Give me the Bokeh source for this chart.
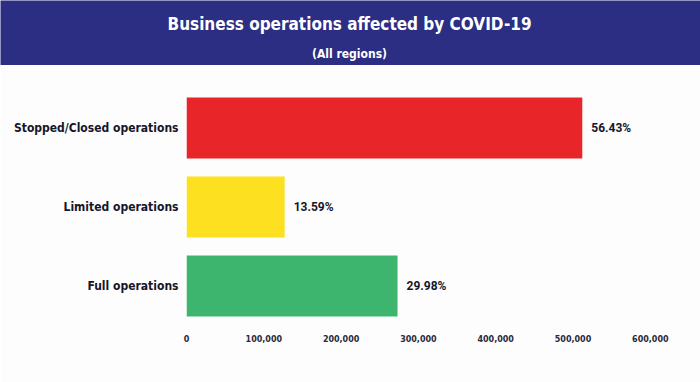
from bokeh.plotting import figure
from bokeh.layouts import column
from bokeh.models import (ColumnDataSource, FactorRange, Range1d, FixedTicker,
                          NumeralTickFormatter, Label)
from bokeh.core.properties import value
from bokeh.embed import file_html
from bokeh.resources import INLINE

# ---- data ----
categories = ["Full operations", "Limited operations", "Stopped/Closed operations"]
counts = [273000, 127000, 512000]
percent_labels = ["29.98%", "13.59%", "56.43%"]
bar_colors = ["#3db56f", "#fde01f", "#e82528"]
x_ticks = [0, 100000, 200000, 300000, 400000, 500000, 600000]
title_text = "Business operations affected by COVID-19"
subtitle_text = "(All regions)"

W = 700
HEADER_H = 65
MAIN_H = 317
NAVY = "#2b2e82"
COND = "DejaVu Sans Condensed"

# ---- header ----
hdr = figure(width=W, height=HEADER_H, output_backend="svg", toolbar_location=None,
             x_range=Range1d(0, 1), y_range=Range1d(0, 1),
             min_border=0, min_border_left=0, min_border_right=0,
             min_border_top=0, min_border_bottom=0)
hdr.frame_align = False
hdr.axis.visible = False
hdr.grid.visible = False
hdr.outline_line_color = None
hdr.background_fill_color = NAVY
hdr.border_fill_color = NAVY
hdr.add_layout(Label(x=W / 2 - 1, y=HEADER_H - 23, x_units="screen", y_units="screen",
                     text=title_text, text_align="center", text_baseline="middle",
                     text_color="white", text_font=COND,
                     text_font_style="bold", text_font_size="17px"))
hdr.add_layout(Label(x=W / 2 - 1, y=HEADER_H - 53, x_units="screen", y_units="screen",
                     text=subtitle_text, text_align="center", text_baseline="middle",
                     text_color="white", text_font=COND,
                     text_font_style="bold", text_font_size="12px"))

# ---- main chart ----
src = ColumnDataSource(dict(cat=categories, val=counts, lab=percent_labels, col=bar_colors))

p = figure(width=W, height=MAIN_H, output_backend="svg", toolbar_location=None,
           y_range=FactorRange(*categories, range_padding=0),
           x_range=Range1d(0, 652000),
           min_border_left=186, min_border_right=10,
           min_border_top=23, min_border_bottom=57)
p.frame_align = False
p.hbar(y="cat", right="val", left=0, height=0.77, fill_color="col",
       line_color=None, source=src)
p.text(x="val", y="cat", text="lab", source=src, x_offset=9,
       text_baseline="middle", text_align="left", text_color="#16162a",
       text_font=value("Roboto"), text_font_style="bold", text_font_size="12px")

p.xaxis.ticker = FixedTicker(ticks=x_ticks)
p.xaxis.formatter = NumeralTickFormatter(format="0,0")
p.xaxis.axis_line_color = None
p.xaxis.major_tick_line_color = None
p.xaxis.minor_tick_line_color = None
p.xaxis.major_tick_out = 0
p.xaxis.major_tick_in = 0
p.xaxis.major_label_standoff = 9
p.xaxis.major_label_text_font = "DejaVu Sans"
p.xaxis.major_label_text_font_style = "bold"
p.xaxis.major_label_text_font_size = "8px"
p.xaxis.major_label_text_color = "#2a2a3a"

p.yaxis.axis_line_color = None
p.yaxis.major_tick_line_color = None
p.yaxis.minor_tick_line_color = None
p.yaxis.major_tick_out = 0
p.yaxis.major_tick_in = 0
p.yaxis.major_label_standoff = 8
p.yaxis.major_label_text_font = COND
p.yaxis.major_label_text_font_style = "bold"
p.yaxis.major_label_text_font_size = "12px"
p.yaxis.major_label_text_color = "#16162a"

p.grid.visible = False
p.outline_line_color = None
p.background_fill_color = "#fdfdfd"
p.border_fill_color = "#fdfdfd"

layout = column(hdr, p, spacing=0)
open("out.html", "w").write(file_html(layout, INLINE))
